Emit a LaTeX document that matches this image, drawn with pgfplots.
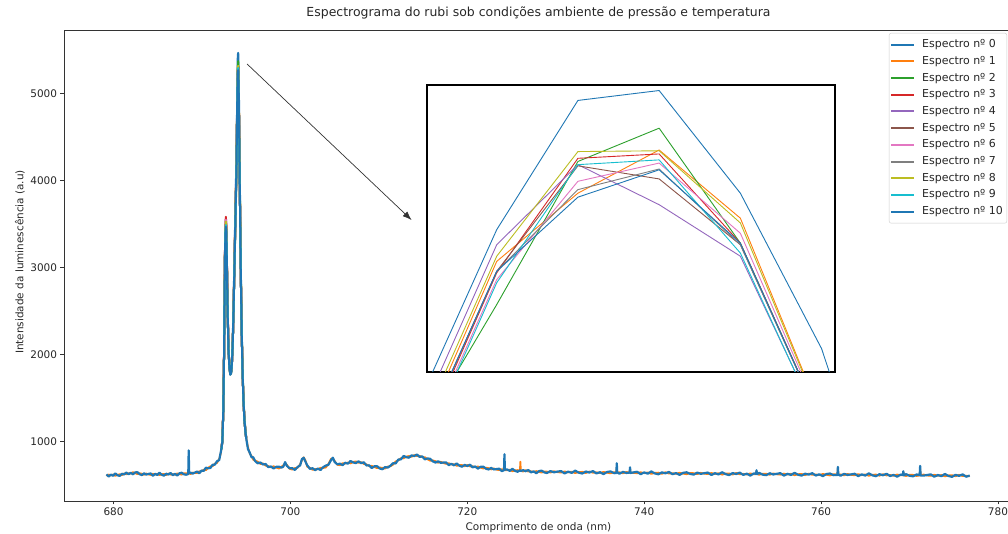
\documentclass[border=0pt]{standalone}
\usepackage{fontspec}
\setmainfont{DejaVu Sans}
\usepackage{pgfplots}
\usepackage{pgfplotstable}
\pgfplotsset{compat=1.18}
\usetikzlibrary{arrows.meta}

\definecolor{c0}{HTML}{1F77B4}
\definecolor{c1}{HTML}{FF7F0E}
\definecolor{c2}{HTML}{2CA02C}
\definecolor{c3}{HTML}{D62728}
\definecolor{c4}{HTML}{9467BD}
\definecolor{c5}{HTML}{8C564B}
\definecolor{c6}{HTML}{E377C2}
\definecolor{c7}{HTML}{7F7F7F}
\definecolor{c8}{HTML}{BCBD22}
\definecolor{c9}{HTML}{17BECF}

% common left part (y: spectrum 10, z: spectrum 1)
\pgfplotstableread{
x y z
679.20 624 607
679.45 599 622
679.70 621 612
679.95 608 622
680.20 635 607
680.45 614 620
680.70 606 625
680.95 631 614
681.20 623 635
681.45 645 626
681.70 625 637
681.95 643 634
682.20 624 649
682.45 647 638
682.70 649 627
682.95 626 637
683.20 616 632
683.45 636 619
683.70 622 634
683.95 629 623
684.20 635 618
684.45 608 631
684.70 630 621
684.95 617 631
685.20 643 615
685.45 620 626
685.70 609 628
685.95 632 615
686.20 622 634
686.45 640 621
686.70 615 627
686.95 630 621
687.20 610 635
687.45 636 627
687.70 643 621
687.95 625 636
688.20 620 636
688.45 628 634
688.50 900 640
688.55 638 636
688.70 644 627
688.95 633 645
689.20 645 639
689.45 657 640
689.70 637 660
689.95 668 659
690.20 664 678
690.45 701 673
690.70 694 700
690.95 698 717
691.20 734 717
691.45 736 748
691.70 775 756
691.95 789 801
692.10 866 855
692.20 920 915
}\leftdata

% common right part (y: spectrum 10, z: spectrum 1)
\pgfplotstableread{
x y z
695.00 1040 1045
695.20 915 938
695.40 874 865
695.60 822 836
695.80 820 792
696.00 778 784
696.30 751 770
696.60 761 744
696.90 738 750
697.20 743 724
697.50 707 719
697.80 715 706
698.10 692 717
698.40 711 702
698.70 713 691
699.00 702 713
699.20 713 729
699.40 765 748
699.60 722 734
699.90 695 689
700.20 696 679
700.50 675 698
700.80 708 699
701.10 727 741
701.30 800 785
701.50 815 820
701.70 770 785
701.90 729 712
702.20 688 700
702.50 695 676
702.80 673 685
703.10 691 682
703.40 674 699
703.70 707 698
704.00 725 703
704.30 734 745
704.60 790 804
704.80 816 801
705.00 767 779
705.30 740 734
705.60 747 730
705.90 730 753
706.20 758 749
706.50 747 761
706.80 778 750
707.10 761 767
707.40 754 773
707.70 774 757
708.00 753 765
708.30 763 744
708.60 727 739
708.90 728 719
709.20 697 722
709.50 717 708
709.80 718 696
710.10 692 703
710.40 683 699
710.70 708 691
711.00 702 714
711.30 723 717
711.60 752 735
711.90 750 773
712.20 794 785
712.50 797 811
712.80 836 808
713.10 822 828
713.40 816 835
713.70 843 826
714.00 834 846
714.30 853 834
714.60 825 837
714.90 831 822
715.20 797 822
715.50 807 798
715.80 803 781
716.10 774 785
716.40 760 776
716.70 775 758
717.00 757 769
717.30 760 754
717.60 762 745
717.90 730 753
718.20 746 737
718.50 728 742
718.80 750 722
719.10 724 730
719.40 712 731
719.70 733 716
720.00 720 732
720.30 735 716
720.60 705 717
720.90 715 706
721.20 690 715
721.50 711 702
721.80 713 691
722.10 690 701
722.40 680 696
722.70 698 681
723.00 681 693
723.30 685 679
723.60 690 673
723.90 661 684
724.15 672 676
724.20 855 690
724.25 678 672
724.50 681 672
724.80 664 678
725.10 688 660
725.40 664 670
725.70 654 673
725.95 672 664
726.00 668 770
726.05 662 668
726.30 673 656
726.60 660 672
726.90 675 656
727.20 647 659
727.50 659 650
727.80 637 662
728.10 661 652
728.40 667 645
728.70 647 658
729.00 640 656
729.40 662 645
729.80 648 660
730.20 656 650
730.60 662 645
731.00 635 658
731.40 656 647
731.80 641 655
732.20 667 639
732.60 644 650
733.00 634 653
733.40 657 640
733.80 645 657
734.20 662 643
734.60 635 647
735.00 649 640
735.40 627 652
735.80 652 643
736.20 658 636
736.60 638 649
736.85 640 646
736.90 752 700
736.95 646 642
737.20 632 648
737.60 653 636
738.00 640 652
738.35 645 641
738.40 705 690
738.45 640 644
738.80 647 641
739.20 654 637
739.60 626 649
740.00 647 638
740.40 632 646
740.80 658 630
741.20 635 641
741.60 625 644
742.00 647 630
742.40 636 648
742.80 652 633
743.20 626 638
743.60 639 630
744.00 618 643
744.40 642 633
744.80 648 626
745.20 629 640
745.60 622 638
746.00 644 627
746.40 630 642
746.80 638 632
747.20 645 628
747.60 617 640
748.00 638 629
748.40 623 637
748.80 649 621
749.20 627 633
749.60 616 635
750.00 639 622
750.40 628 640
750.80 644 625
751.20 618 630
751.60 632 623
752.00 610 635
752.40 635 626
752.65 630 626
752.70 672 660
752.75 626 630
753.00 641 619
753.40 621 632
753.80 615 631
754.20 637 620
754.60 623 635
755.00 631 625
755.40 638 621
755.80 610 633
756.20 631 622
756.60 617 631
757.00 642 614
757.40 620 626
757.80 610 629
758.20 632 615
758.60 621 633
759.00 638 619
759.40 611 623
759.80 625 616
760.20 604 629
760.60 628 619
761.00 634 612
761.40 615 626
761.85 618 622
761.90 710 690
761.95 622 619
762.20 608 624
762.60 630 613
763.00 617 629
763.40 624 618
763.80 631 614
764.20 604 627
764.60 624 615
765.00 610 624
765.40 636 608
765.80 613 619
766.20 603 622
766.60 626 609
767.00 614 626
767.40 631 612
767.80 605 617
768.20 618 609
768.60 597 622
769.00 622 613
769.25 617 613
769.30 660 650
769.35 612 616
769.60 627 605
770.00 608 619
770.40 602 618
770.80 623 606
771.15 616 611
771.20 722 690
771.25 610 615
771.60 610 622
772.00 617 611
772.40 624 607
772.80 597 620
773.20 617 608
773.60 603 617
774.00 629 601
774.40 606 612
774.80 596 615
775.20 619 602
775.60 607 619
776.00 624 605
776.40 597 609
776.80 611 602
}\rightdata

% peak region, one column per spectrum
\pgfplotstableread{
x s0 s1 s2 s3 s4 s5 s6 s7 s8 s9 s10
692.20 925 915 930 918 922 912 928 917 921 910 920
692.30 1010 995 1008 1012 990 1002 1006 996 1004 992 1000
692.40 1320 1308 1302 1325 1305 1298 1315 1300 1310 1296 1300
692.50 2035 2019 2012 2045 2016 2008 2031 2012 2023 2008 2000
692.55 2651 2627 2618 2664 2623 2612 2645 2618 2633 2612 2600
692.60 3164 3134 3122 3181 3129 3115 3156 3122 3142 3115 3100
692.65 3461 3428 3415 3480 3423 3406 3453 3415 3437 3406 3390
692.70 3560 3520 3500 3585 3510 3490 3550 3500 3530 3490 3470
692.75 3482 3449 3435 3501 3443 3427 3473 3435 3457 3427 3410
692.80 3215 3185 3172 3232 3180 3165 3207 3172 3192 3165 3150
692.85 2856 2830 2819 2871 2826 2813 2849 2819 2836 2813 2800
692.90 2528 2506 2496 2540 2502 2491 2522 2496 2511 2491 2480
693.00 2086 2070 2063 2096 2067 2058 2082 2063 2074 2058 2050
693.10 1875 1862 1858 1880 1866 1855 1870 1857 1865 1853 1850
693.20 1790 1778 1775 1795 1782 1772 1788 1774 1780 1771 1770
693.30 1815 1800 1795 1810 1805 1793 1808 1796 1802 1792 1790
693.40 1975 1934 1948 1931 1924 1923 1925 1921 1933 1926 1920
693.50 2267 2217 2214 2214 2215 2203 2206 2202 2216 2208 2200
693.60 2736 2672 2644 2668 2681 2654 2648 2652 2670 2650 2650
693.70 3258 3178 3115 3173 3203 3155 3140 3153 3175 3143 3150
693.80 3779 3683 3586 3677 3719 3656 3637 3653 3680 3640 3650
693.90 4300 4189 4057 4182 4231 4157 4134 4154 4185 4138 4150
693.95 4664 4570 4584 4545 4620 4555 4535 4555 4590 4525 4555
694.00 5119 5039 4930 5010 5081 5014 4993 5014 5052 4985 5014
694.05 5445 5211 5291 5299 5283 5280 5241 5220 5316 5283 5201
694.10 5470 5320 5375 5310 5182 5247 5287 5272 5318 5295 5270
694.15 5211 5148 5085 5085 5052 5081 5110 5081 5136 5060 5085
694.20 4819 4648 4631 4631 4620 4630 4640 4630 4645 4615 4630
694.25 4200 4190 4160 4160 4150 4155 4170 4155 4180 4140 4150
694.30 3831 3734 3767 3727 3709 3706 3712 3703 3731 3715 3700
694.40 2945 2874 2898 2870 2857 2854 2859 2852 2872 2861 2850
694.50 2267 2217 2234 2214 2205 2203 2206 2202 2216 2208 2200
694.60 1797 1762 1774 1760 1753 1752 1754 1751 1761 1756 1750
694.70 1484 1459 1468 1457 1452 1452 1453 1451 1458 1454 1450
694.80 1276 1262 1258 1255 1248 1252 1256 1249 1260 1247 1250
694.90 1150 1140 1136 1128 1133 1126 1138 1129 1142 1127 1130
695.00 1052 1045 1038 1042 1036 1040 1048 1035 1044 1037 1040
}\peakdata

\begin{document}
\begin{tikzpicture}
\begin{axis}[
  at={(0bp,0bp)}, anchor=south west,
  scale only axis, width=949bp, height=470.5bp,
  xmin=674.4, xmax=781.7, ymin=318, ymax=5727,
  xtick={680,700,720,740,760,780},
  ytick={1000,2000,3000,4000,5000},
  scaled ticks=false,
  /pgf/number format/assume math mode=true,
  /pgf/number format/set thousands separator={},
  tick align=outside, xtick pos=left, ytick pos=left,
  major tick length=3.5bp,
  tick style={black!80, line width=0.8bp},
  axis line style={black!80, line width=0.8bp},
  ticklabel style={font=\fontsize{10.5}{12}\selectfont, text=black!85},
  title={Espectrograma do rubi sob condições ambiente de pressão e temperatura},
  title style={font=\fontsize{12.5}{14}\selectfont, text=black!85, at={(axis description cs:0.5,1.018)}, anchor=base},
  xlabel={Comprimento de onda (nm)},
  xlabel style={font=\fontsize{10.5}{12}\selectfont, text=black!85, at={(axis description cs:0.5,-0.0574)}, anchor=center},
  ylabel={Intensidade da luminescência  (a.u)},
  ylabel style={font=\fontsize{10.5}{12}\selectfont, text=black!85, at={(axis description cs:-0.0464,0.508)}, anchor=center},
  legend style={at={(0.9937,0.9947)}, anchor=north east, draw=black!20, fill=white,
    rounded corners=2bp, font=\fontsize{11}{12}\selectfont, inner xsep=1bp, inner ysep=3.5bp, row sep=0.7bp,
    nodes={inner xsep=3bp, inner ysep=2.5bp, text height=8.5bp, text depth=2.5bp, text=black!85},
    /tikz/every odd column/.append style={column sep=4bp}},
  legend cell align=left,
  legend image code/.code={\draw[#1, line width=2bp] (0bp,0bp) -- (23bp,0bp);},
  every axis plot/.append style={line join=round},
]
% spectrum 1 outside the peak (below)
\addplot[c1, line width=1.8bp, forget plot] table[x=x,y=z]{\leftdata};
\addplot[c1, line width=1.8bp, forget plot] table[x=x,y=z]{\rightdata};
% peak region of each spectrum
\addplot[c0, line width=2bp] table[x=x,y=s0]{\peakdata};
\addlegendentry{Espectro nº 0}
\addplot[c1, line width=2bp] table[x=x,y=s1]{\peakdata};
\addlegendentry{Espectro nº 1}
\addplot[c2, line width=2bp] table[x=x,y=s2]{\peakdata};
\addlegendentry{Espectro nº 2}
\addplot[c3, line width=2bp] table[x=x,y=s3]{\peakdata};
\addlegendentry{Espectro nº 3}
\addplot[c4, line width=2bp] table[x=x,y=s4]{\peakdata};
\addlegendentry{Espectro nº 4}
\addplot[c5, line width=2bp] table[x=x,y=s5]{\peakdata};
\addlegendentry{Espectro nº 5}
\addplot[c6, line width=2bp] table[x=x,y=s6]{\peakdata};
\addlegendentry{Espectro nº 6}
\addplot[c7, line width=2bp] table[x=x,y=s7]{\peakdata};
\addlegendentry{Espectro nº 7}
\addplot[c8, line width=2bp] table[x=x,y=s8]{\peakdata};
\addlegendentry{Espectro nº 8}
\addplot[c9, line width=2bp] table[x=x,y=s9]{\peakdata};
\addlegendentry{Espectro nº 9}
\addplot[c0, line width=2bp] table[x=x,y=s10]{\peakdata};
\addlegendentry{Espectro nº 10}
% spectrum 10 outside the peak (on top)
\addplot[c0, line width=2.2bp, forget plot] table[x=x,y=y]{\leftdata};
\addplot[c0, line width=2.2bp, forget plot] table[x=x,y=y]{\rightdata};
% arrow towards the zoom
\draw[-{Latex[length=9bp,width=6.5bp]}, black!80, line width=0.7bp] (axis cs:695.1,5342) -- (axis cs:713.7,3548);
\end{axis}

% zoom on the main peak; x in units of 0.01 nm above 694 nm
\begin{axis}[
  at={(363bp,129bp)}, anchor=south west,
  scale only axis, width=408bp, height=287bp,
  xmin=-4.29, xmax=20.83, ymin=4760, ymax=5484,
  xtick=\empty, ytick=\empty,
  axis line style={black, line width=2.2bp},
  axis background/.style={fill=white},
  every axis plot/.append style={line width=0.9bp, line join=round},
]
\addplot[c0] table[x expr={(\thisrow{x}-694)*100},y=s0]{\peakdata};
\addplot[c1] table[x expr={(\thisrow{x}-694)*100},y=s1]{\peakdata};
\addplot[c2] table[x expr={(\thisrow{x}-694)*100},y=s2]{\peakdata};
\addplot[c3] table[x expr={(\thisrow{x}-694)*100},y=s3]{\peakdata};
\addplot[c4] table[x expr={(\thisrow{x}-694)*100},y=s4]{\peakdata};
\addplot[c5] table[x expr={(\thisrow{x}-694)*100},y=s5]{\peakdata};
\addplot[c6] table[x expr={(\thisrow{x}-694)*100},y=s6]{\peakdata};
\addplot[c7] table[x expr={(\thisrow{x}-694)*100},y=s7]{\peakdata};
\addplot[c8] table[x expr={(\thisrow{x}-694)*100},y=s8]{\peakdata};
\addplot[c9] table[x expr={(\thisrow{x}-694)*100},y=s9]{\peakdata};
\addplot[c0] table[x expr={(\thisrow{x}-694)*100},y=s10]{\peakdata};
\end{axis}
\pgfresetboundingbox
\path[use as bounding box] (-64bp,-33bp) rectangle (944bp,501bp);
\end{tikzpicture}
\end{document}
